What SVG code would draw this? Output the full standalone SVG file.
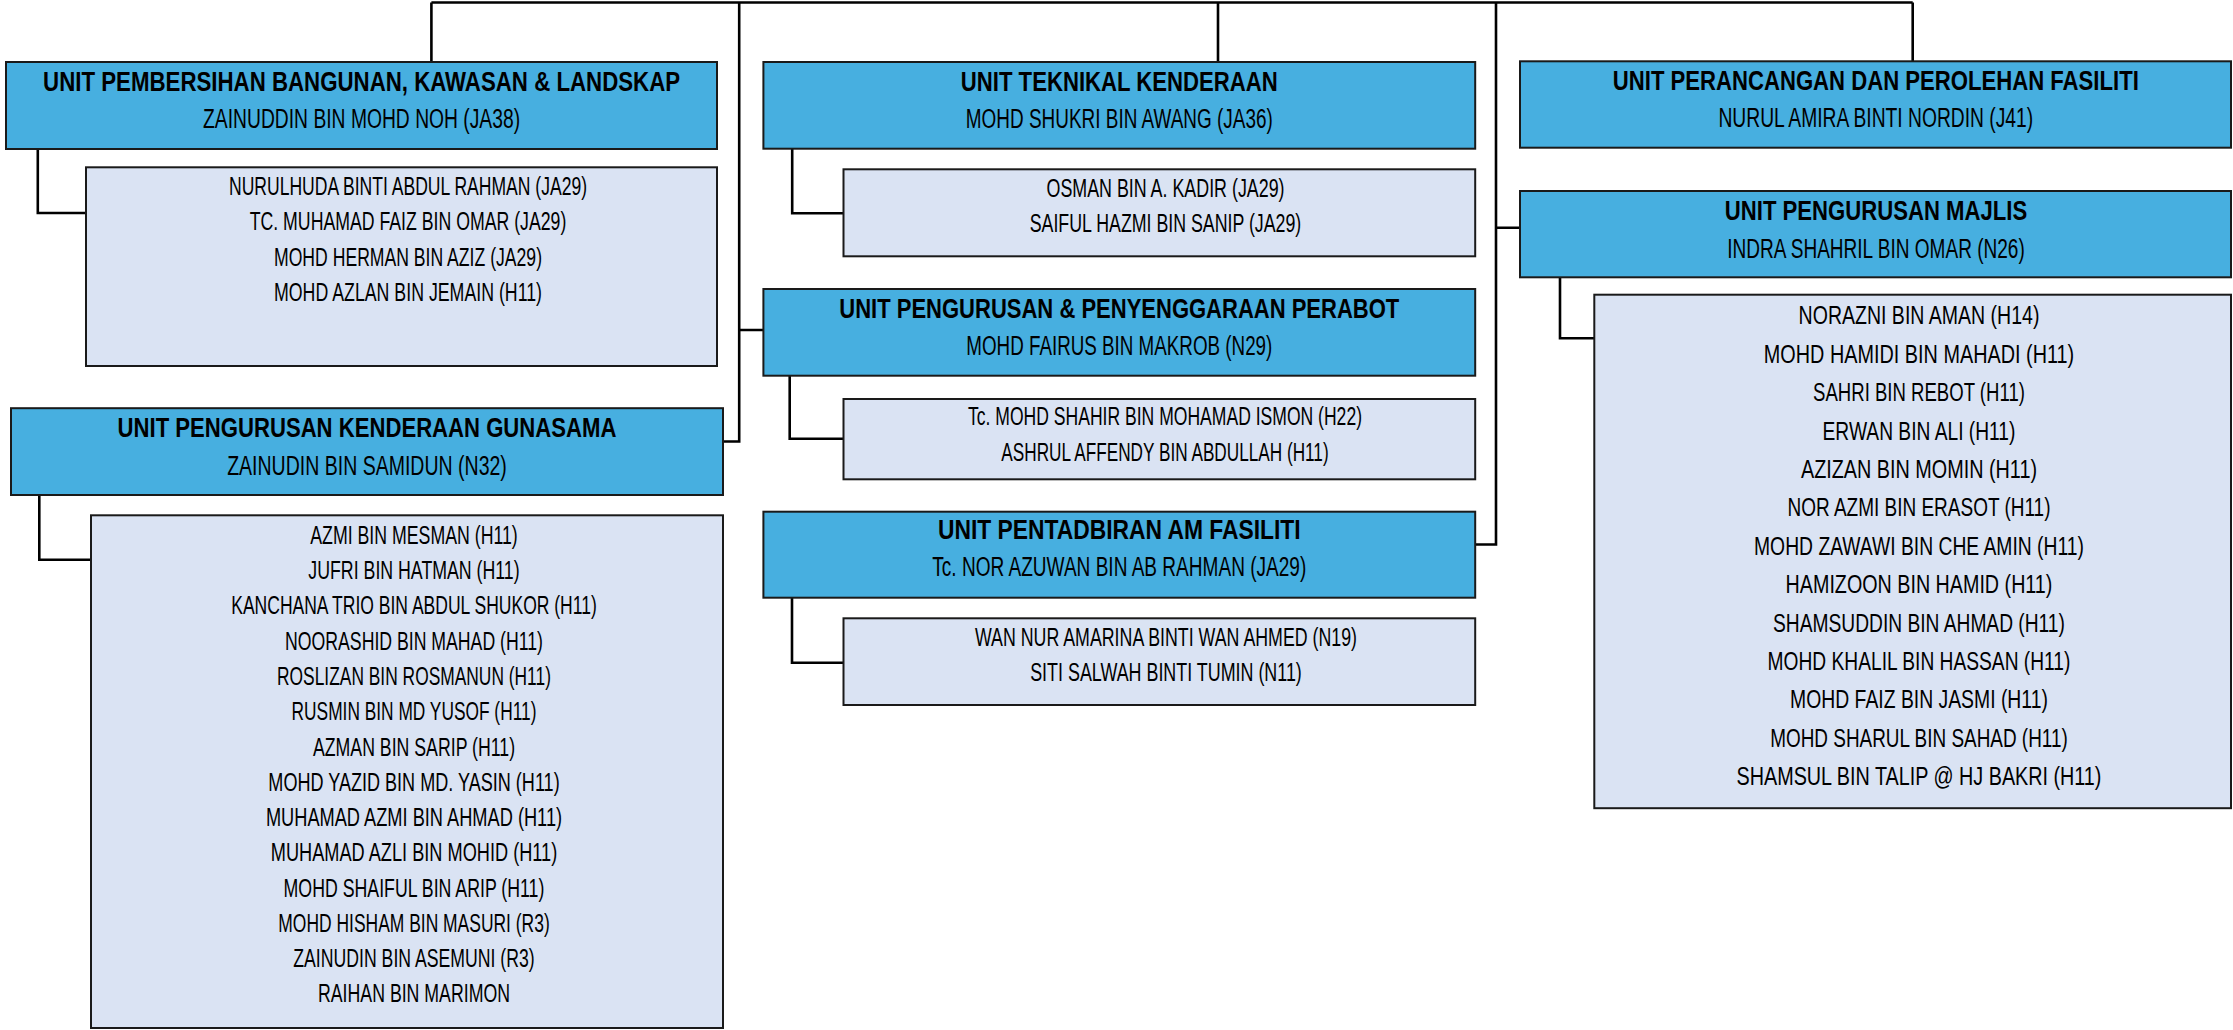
<svg xmlns="http://www.w3.org/2000/svg" width="2233" height="1030" viewBox="0 0 2233 1030">
<style>
.hd{fill:#47AFE0;stroke:#1a1a1a;stroke-width:2}
.st{fill:#DAE3F3;stroke:#1a1a1a;stroke-width:2}
.cn{fill:none;stroke:#000;stroke-width:2.6}
text{font-family:"Liberation Sans",Arial,sans-serif;fill:#000;text-anchor:middle}
.t{font-size:27px;font-weight:bold}
.n{font-size:27px}
.s{font-size:26.5px}
</style>
<rect width="2233" height="1030" fill="#fff"/>
<g id="connectors">
<path class="cn" d="M431.4 2.5H1912.7M431.4 2.5V62M739.2 2.5V441.5H723M739.2 330H763M1218 2.5V62M1496 2.5V544.5H1475M1496 227.7H1520M1912.7 2.5V61.3"/>
<path class="cn" d="M37.8 149V213H86M39.3 495V559.7H91M792.2 148V213.3H843.5M789.7 375.7V438.7H843.5M792 597.7V662.7H843.5M1560 277V338.3H1594"/>
</g>
<g id="pembersihan">
<rect class="hd" x="6" y="62" width="711" height="87"/>
<text class="t" x="361.6" y="90.7" textLength="637" lengthAdjust="spacingAndGlyphs">UNIT PEMBERSIHAN BANGUNAN, KAWASAN &amp; LANDSKAP</text>
<text class="n" x="361.6" y="127.7" textLength="317" lengthAdjust="spacingAndGlyphs">ZAINUDDIN BIN MOHD NOH (JA38)</text>
</g>
<g id="pembersihan-staff">
<rect class="st" x="86" y="167.3" width="631" height="198.7"/>
<text class="s" x="408" y="195" textLength="358" lengthAdjust="spacingAndGlyphs">NURULHUDA BINTI ABDUL RAHMAN (JA29)</text>
<text class="s" x="408" y="230.3" textLength="316.6" lengthAdjust="spacingAndGlyphs">TC. MUHAMAD FAIZ BIN OMAR (JA29)</text>
<text class="s" x="408" y="265.6" textLength="268" lengthAdjust="spacingAndGlyphs">MOHD HERMAN BIN AZIZ (JA29)</text>
<text class="s" x="408" y="300.9" textLength="268" lengthAdjust="spacingAndGlyphs">MOHD AZLAN BIN JEMAIN (H11)</text>
</g>
<g id="gunasama">
<rect class="hd" x="11" y="408.2" width="712" height="86.8"/>
<text class="t" x="367" y="437.3" textLength="498.8" lengthAdjust="spacingAndGlyphs">UNIT PENGURUSAN KENDERAAN GUNASAMA</text>
<text class="n" x="367" y="474.6" textLength="279.7" lengthAdjust="spacingAndGlyphs">ZAINUDIN BIN SAMIDUN (N32)</text>
</g>
<g id="gunasama-staff">
<rect class="st" x="91" y="515.3" width="632" height="512.7"/>
<text class="s" x="414" y="543.9" textLength="207.5" lengthAdjust="spacingAndGlyphs">AZMI BIN MESMAN (H11)</text>
<text class="s" x="414" y="579.2" textLength="211.3" lengthAdjust="spacingAndGlyphs">JUFRI BIN HATMAN (H11)</text>
<text class="s" x="414" y="614.4" textLength="365.5" lengthAdjust="spacingAndGlyphs">KANCHANA TRIO BIN ABDUL SHUKOR (H11)</text>
<text class="s" x="414" y="649.7" textLength="257.9" lengthAdjust="spacingAndGlyphs">NOORASHID BIN MAHAD (H11)</text>
<text class="s" x="414" y="685" textLength="273.9" lengthAdjust="spacingAndGlyphs">ROSLIZAN BIN ROSMANUN (H11)</text>
<text class="s" x="414" y="720.2" textLength="244.8" lengthAdjust="spacingAndGlyphs">RUSMIN BIN MD YUSOF (H11)</text>
<text class="s" x="414" y="755.5" textLength="202.1" lengthAdjust="spacingAndGlyphs">AZMAN BIN SARIP (H11)</text>
<text class="s" x="414" y="790.8" textLength="291.3" lengthAdjust="spacingAndGlyphs">MOHD YAZID BIN MD. YASIN (H11)</text>
<text class="s" x="414" y="826" textLength="296.2" lengthAdjust="spacingAndGlyphs">MUHAMAD AZMI BIN AHMAD (H11)</text>
<text class="s" x="414" y="861.3" textLength="286.5" lengthAdjust="spacingAndGlyphs">MUHAMAD AZLI BIN MOHID (H11)</text>
<text class="s" x="414" y="896.6" textLength="260.8" lengthAdjust="spacingAndGlyphs">MOHD SHAIFUL BIN ARIP (H11)</text>
<text class="s" x="414" y="931.9" textLength="271.4" lengthAdjust="spacingAndGlyphs">MOHD HISHAM BIN MASURI (R3)</text>
<text class="s" x="414" y="967.1" textLength="241.4" lengthAdjust="spacingAndGlyphs">ZAINUDIN BIN ASEMUNI (R3)</text>
<text class="s" x="414" y="1002.4" textLength="192" lengthAdjust="spacingAndGlyphs">RAIHAN BIN MARIMON</text>
</g>
<g id="teknikal">
<rect class="hd" x="763.4" y="62" width="711.8" height="86.7"/>
<text class="t" x="1119.3" y="90.7" textLength="317" lengthAdjust="spacingAndGlyphs">UNIT TEKNIKAL KENDERAAN</text>
<text class="n" x="1119.3" y="127.7" textLength="307" lengthAdjust="spacingAndGlyphs">MOHD SHUKRI BIN AWANG (JA36)</text>
</g>
<g id="teknikal-staff">
<rect class="st" x="843.5" y="169.3" width="631.7" height="87"/>
<text class="s" x="1165.5" y="196.7" textLength="238" lengthAdjust="spacingAndGlyphs">OSMAN BIN A. KADIR (JA29)</text>
<text class="s" x="1165.5" y="231.7" textLength="271.6" lengthAdjust="spacingAndGlyphs">SAIFUL HAZMI BIN SANIP (JA29)</text>
</g>
<g id="perabot">
<rect class="hd" x="763.4" y="289" width="711.8" height="86.7"/>
<text class="t" x="1119.3" y="317.7" textLength="560" lengthAdjust="spacingAndGlyphs">UNIT PENGURUSAN &amp; PENYENGGARAAN PERABOT</text>
<text class="n" x="1119.3" y="355" textLength="306" lengthAdjust="spacingAndGlyphs">MOHD FAIRUS BIN MAKROB (N29)</text>
</g>
<g id="perabot-staff">
<rect class="st" x="843.5" y="399" width="631.7" height="80.3"/>
<text class="s" x="1165" y="425" textLength="394" lengthAdjust="spacingAndGlyphs">Tc. MOHD SHAHIR BIN MOHAMAD ISMON (H22)</text>
<text class="s" x="1165" y="461" textLength="327.3" lengthAdjust="spacingAndGlyphs">ASHRUL AFFENDY BIN ABDULLAH (H11)</text>
</g>
<g id="pentadbiran">
<rect class="hd" x="763.4" y="511.7" width="711.8" height="86"/>
<text class="t" x="1119.3" y="539.3" textLength="362.6" lengthAdjust="spacingAndGlyphs">UNIT PENTADBIRAN AM FASILITI</text>
<text class="n" x="1119.3" y="576" textLength="374" lengthAdjust="spacingAndGlyphs">Tc. NOR AZUWAN BIN AB RAHMAN (JA29)</text>
</g>
<g id="pentadbiran-staff">
<rect class="st" x="843.5" y="618.3" width="631.7" height="86.7"/>
<text class="s" x="1166" y="646" textLength="382" lengthAdjust="spacingAndGlyphs">WAN NUR AMARINA BINTI WAN AHMED (N19)</text>
<text class="s" x="1166" y="680.7" textLength="271.6" lengthAdjust="spacingAndGlyphs">SITI SALWAH BINTI TUMIN (N11)</text>
</g>
<g id="perancangan">
<rect class="hd" x="1520" y="61.3" width="711" height="86.4"/>
<text class="t" x="1875.8" y="90" textLength="526" lengthAdjust="spacingAndGlyphs">UNIT PERANCANGAN DAN PEROLEHAN FASILITI</text>
<text class="n" x="1875.8" y="126.7" textLength="314.7" lengthAdjust="spacingAndGlyphs">NURUL AMIRA BINTI NORDIN (J41)</text>
</g>
<g id="majlis">
<rect class="hd" x="1520" y="191" width="711" height="86.3"/>
<text class="t" x="1876" y="220" textLength="302.3" lengthAdjust="spacingAndGlyphs">UNIT PENGURUSAN MAJLIS</text>
<text class="n" x="1876" y="257.7" textLength="297.5" lengthAdjust="spacingAndGlyphs">INDRA SHAHRIL BIN OMAR (N26)</text>
</g>
<g id="majlis-staff">
<rect class="st" x="1594.3" y="294.7" width="636.7" height="513.5"/>
<text class="s" x="1919" y="324.3" textLength="240.8" lengthAdjust="spacingAndGlyphs">NORAZNI BIN AMAN (H14)</text>
<text class="s" x="1919" y="362.7" textLength="310.4" lengthAdjust="spacingAndGlyphs">MOHD HAMIDI BIN MAHADI (H11)</text>
<text class="s" x="1919" y="401.1" textLength="211.8" lengthAdjust="spacingAndGlyphs">SAHRI BIN REBOT (H11)</text>
<text class="s" x="1919" y="439.5" textLength="192.9" lengthAdjust="spacingAndGlyphs">ERWAN BIN ALI (H11)</text>
<text class="s" x="1919" y="477.9" textLength="236" lengthAdjust="spacingAndGlyphs">AZIZAN BIN MOMIN (H11)</text>
<text class="s" x="1919" y="516.3" textLength="263" lengthAdjust="spacingAndGlyphs">NOR AZMI BIN ERASOT (H11)</text>
<text class="s" x="1919" y="554.7" textLength="329.9" lengthAdjust="spacingAndGlyphs">MOHD ZAWAWI BIN CHE AMIN (H11)</text>
<text class="s" x="1919" y="593.1" textLength="266.8" lengthAdjust="spacingAndGlyphs">HAMIZOON BIN HAMID (H11)</text>
<text class="s" x="1919" y="631.5" textLength="291.9" lengthAdjust="spacingAndGlyphs">SHAMSUDDIN BIN AHMAD (H11)</text>
<text class="s" x="1919" y="669.9" textLength="302.8" lengthAdjust="spacingAndGlyphs">MOHD KHALIL BIN HASSAN (H11)</text>
<text class="s" x="1919" y="708.3" textLength="257.8" lengthAdjust="spacingAndGlyphs">MOHD FAIZ BIN JASMI (H11)</text>
<text class="s" x="1919" y="746.7" textLength="297.6" lengthAdjust="spacingAndGlyphs">MOHD SHARUL BIN SAHAD (H11)</text>
<text class="s" x="1919" y="785.1" textLength="364.9" lengthAdjust="spacingAndGlyphs">SHAMSUL BIN TALIP @ HJ BAKRI (H11)</text>
</g>
</svg>
